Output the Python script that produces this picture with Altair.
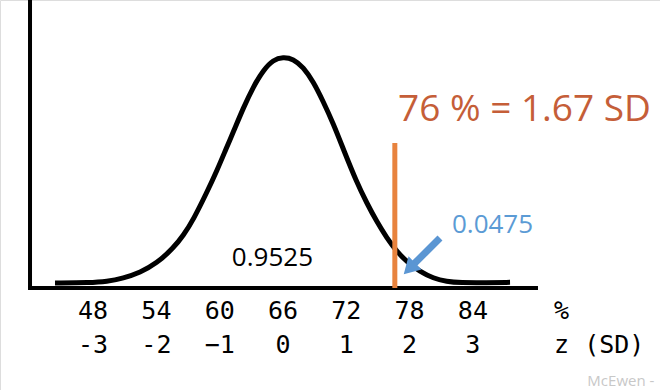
import altair as alt
import pandas as pd

# ---- data ----
# curve: x in %, height relative to peak (peak = 1)
curve_pct = [44.39, 47.71, 49.29, 50.86, 52.45, 54.03, 55.60, 56.55, 57.50, 58.77,
             59.72, 60.66, 61.29, 62.24, 63.18, 64.13, 65.08, 66.0, 66.98, 67.92,
             68.87, 69.82, 70.77, 71.72, 72.99, 73.93, 74.88, 75.83, 76.78, 77.73,
             78.99, 80.25, 81.52, 82.78, 85.31, 87.52]
curve_height = [0.0, 0.001, 0.006, 0.021, 0.046, 0.087, 0.154, 0.210, 0.280, 0.400,
                0.495, 0.600, 0.668, 0.775, 0.868, 0.942, 0.988, 1.0, 0.992, 0.955,
                0.891, 0.802, 0.705, 0.592, 0.445, 0.355, 0.272, 0.200, 0.140, 0.094,
                0.050, 0.021, 0.006, 0.001, 0.001, 0.003]

pct_ticks = [48, 54, 60, 66, 72, 78, 84]
z_ticks = ["-3", "-2", "\u22121", "0", "1", "2", "3"]

marker_pct = 76.6          # orange line position as drawn (label says 76 %)
marker_top = 0.619
marker_label = "76 % = 1.67 SD"
tail_area = "0.0475"
body_area = "0.9525"

# annotation anchor points (data units)
label_pos = {"marker": (88.89, 0.767), "tail": (85.86, 0.257), "body": (65.0, 0.111)}
arrow_from = (80.88, 0.199)
arrow_to = (77.98, 0.064)
axis_x_range = (41.83, 90.17)
axis_y_pos = 42.02
axis_level = -0.0221
axis_top = 1.2522
row1_y, row2_y = -0.124, -0.274
unit_x = 91.69
credit = ("McEwen -", 94.85, -0.434)

XD = [39.175, 101.735]
YD = [-0.4735, 1.2522]
xs = alt.Scale(domain=XD, nice=False, zero=False)
ys = alt.Scale(domain=YD, nice=False, zero=False)

def X(f="x"):
    return alt.X(f"{f}:Q", scale=xs, axis=None)

def Y(f="y"):
    return alt.Y(f"{f}:Q", scale=ys, axis=None)

curve_df = pd.DataFrame({"x": curve_pct, "y": curve_height})
curve = alt.Chart(curve_df).mark_line(
    color="black", strokeWidth=5, interpolate="basis", strokeCap="butt"
).encode(x=X(), y=Y())

axes_df = pd.DataFrame({
    "x": [axis_y_pos, axis_x_range[0]],
    "y": [axis_top, axis_level],
    "x2": [axis_y_pos, axis_x_range[1]],
    "y2": [axis_level, axis_level],
})
axes = alt.Chart(axes_df).mark_rule(color="black", strokeWidth=4).encode(
    x=X(), y=Y(), x2="x2:Q", y2="y2:Q")

marker_df = pd.DataFrame({"x": [marker_pct], "y": [marker_top], "y2": [axis_level]})
marker = alt.Chart(marker_df).mark_rule(color="#E8833E", strokeWidth=5).encode(
    x=X(), y=Y(), y2="y2:Q")

arrow_df = pd.DataFrame({"x": [arrow_from[0]], "y": [arrow_from[1]],
                         "x2": [arrow_to[0]], "y2": [arrow_to[1]]})
shaft = alt.Chart(arrow_df).mark_rule(color="#5B96D3", strokeWidth=7).encode(
    x=X(), y=Y(), x2="x2:Q", y2="y2:Q")
head_df = pd.DataFrame({"x": [arrow_to[0]], "y": [arrow_to[1]]})
head = alt.Chart(head_df).mark_point(
    shape="triangle-up", angle=225, size=340, filled=True, color="#5B96D3", opacity=1
).encode(x=X(), y=Y())

def txt(text, x, y, color, size, font, align="center"):
    df = pd.DataFrame({"x": [x], "y": [y], "t": [text]})
    return alt.Chart(df).mark_text(
        color=color, fontSize=size, font=font, align=align, baseline="middle"
    ).encode(x=X(), y=Y(), text="t:N")

t_marker = txt(marker_label, *label_pos["marker"], "#C55E38", 37, "Open Sans")
t_tail = txt(tail_area, *label_pos["tail"], "#5B9BD5", 26, "Open Sans")
t_body = txt(body_area, *label_pos["body"], "black", 26, "Open Sans")

ticks_df = pd.DataFrame({
    "x": pct_ticks * 2,
    "y": [row1_y] * len(pct_ticks) + [row2_y] * len(pct_ticks),
    "t": [str(v) for v in pct_ticks] + z_ticks,
})
ticks = alt.Chart(ticks_df).mark_text(
    font="DejaVu Sans Mono", fontSize=25, color="black", align="center", baseline="middle"
).encode(x=X(), y=Y(), text="t:N")

units_df = pd.DataFrame({"x": [unit_x, unit_x], "y": [row1_y, row2_y], "t": ["%", "z (SD)"]})
units = alt.Chart(units_df).mark_text(
    font="DejaVu Sans Mono", fontSize=25, color="black", align="left", baseline="middle"
).encode(x=X(), y=Y(), text="t:N")

t_credit = txt(credit[0], credit[1], credit[2], "#C8C8C8", 15, "Open Sans", align="left")

chart = alt.layer(
    curve, axes, marker, shaft, head, t_marker, t_tail, t_body, ticks, units, t_credit
).properties(
    width=660, height=390, padding=0, autosize=alt.AutoSizeParams(type="none")
).configure_view(stroke=None).configure(background="white")

chart.save("out.html", embed_options={"renderer": "svg", "actions": False})
